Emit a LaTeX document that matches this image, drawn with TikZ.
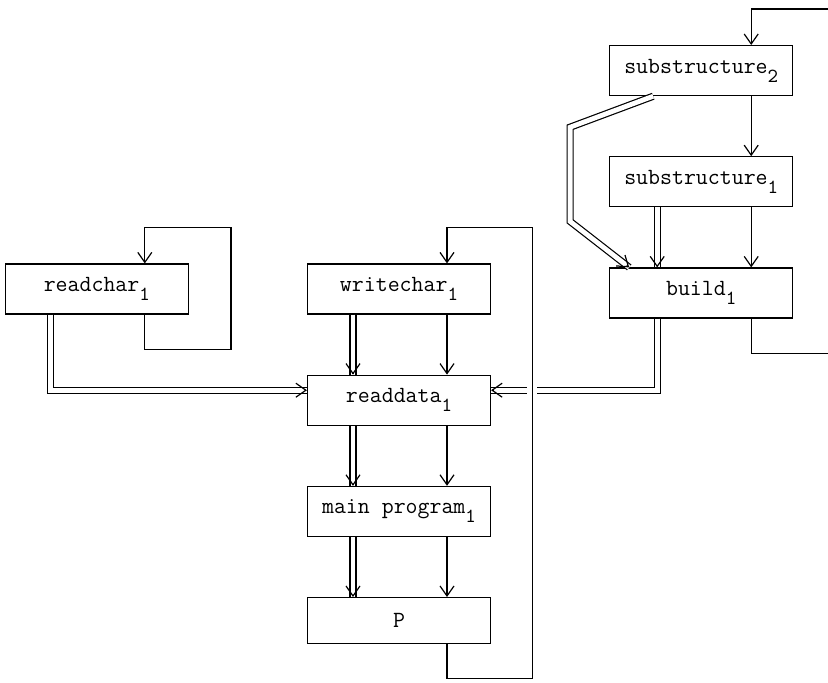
\documentclass[tikz,border=0pt]{standalone}
\usetikzlibrary{arrows.meta,positioning}
\newcommand{\ix}[1]{\raisebox{-4.5pt}{\fontsize{10}{10}\selectfont #1}}

\begin{document}
\begin{tikzpicture}[
      x=0.5pt, y=-0.5pt,
      node distance=30pt and 59pt,
      box/.style={draw, line width=0.6pt, minimum width=91.5pt, minimum height=25pt,
        inner sep=0pt, font=\fontsize{11.6}{13}\selectfont\ttfamily},
      arr/.style={-{Straight Barb[length=5pt,width=7pt]}, line width=0.6pt},
      dbl/.style={double, double distance=2.4pt, line width=0.6pt}]
    \clip (0,0) rectangle (828,682);
    \node[box] (writechar) at (399,289) {writechar\ix{1}};
    \node[box, left=of writechar] (readchar) {readchar\ix{1}};
    \node[box, right=of writechar, yshift=-2pt] (build) {build\ix{1}};
    \node[box, above=of build] (sub1) {substructure\ix{1}};
    \node[box, above=of sub1] (sub2) {substructure\ix{2}};
    \node[box, below=of writechar] (readdata) {readdata\ix{1}};
    \node[box, below=of readdata] (main) {main program\ix{1}};
    \node[box, below=of main, minimum height=23pt] (P) {P};

    % right column
    \draw[arr] ([xshift=25pt]sub2.south) -- ([xshift=25pt]sub1.north);
    \draw[arr] ([xshift=25pt]sub1.south) -- ([xshift=25pt]build.north);
    \draw[dbl] ([xshift=-22pt]sub1.south) -- ([xshift=-22pt]build.north);
    \draw[arr] ([xshift=-22pt,yshift=1pt]build.north) -- ([xshift=-22pt]build.north);
    \draw[dbl] ([xshift=-24pt]sub2.south) -- ([xshift=-19.5pt,yshift=-15.5pt]sub2.south west)
      -- ([xshift=-19.5pt,yshift=23pt]build.north west) -- ([xshift=-36pt]build.north);
    \draw[arr] ([xshift=-37.24pt,yshift=1pt]build.north) -- ([xshift=-36pt]build.north);
    \coordinate (farright) at ([xshift=30pt,yshift=18pt]sub2.north east);
    \draw[arr] ([xshift=25pt]build.south) -- ++(0,-17.5pt) -| (farright)
      -| ([xshift=25pt]sub2.north);

    % centre column
    \draw[dbl] ([xshift=-23pt]writechar.south) -- ([xshift=-23pt]readdata.north);
    \draw[arr] ([xshift=-23pt,yshift=1pt]readdata.north) -- ([xshift=-23pt]readdata.north);
    \draw[arr] ([xshift=24pt]writechar.south) -- ([xshift=24pt]readdata.north);
    \draw[dbl] ([xshift=-23pt]readdata.south) -- ([xshift=-23pt]main.north);
    \draw[arr] ([xshift=-23pt,yshift=1pt]main.north) -- ([xshift=-23pt]main.north);
    \draw[arr] ([xshift=24pt]readdata.south) -- ([xshift=24pt]main.north);
    \draw[dbl] ([xshift=-23pt]main.south) -- ([xshift=-23pt]P.north);
    \draw[arr] ([xshift=-23pt,yshift=1pt]P.north) -- ([xshift=-23pt]P.north);
    \draw[arr] ([xshift=24pt]main.south) -- ([xshift=24pt]P.north);

    % readchar
    \draw[arr] ([xshift=24pt]readchar.south) -- ++(0,-17.5pt)
      -| ([xshift=21pt,yshift=18pt]readchar.north east) -| ([xshift=24pt]readchar.north);
    \draw[dbl] ([xshift=-23pt]readchar.south) |- ([yshift=5pt]readdata.west);
    \draw[arr] ([xshift=-1pt,yshift=5pt]readdata.west) -- ([yshift=5pt]readdata.west);

    % build to readdata, crossing the writechar loop
    \draw[dbl] ([xshift=-22pt]build.south) |- ([yshift=5pt]readdata.east);
    \draw[arr] ([xshift=1pt,yshift=5pt]readdata.east) -- ([yshift=5pt]readdata.east);
    \coordinate (wtop) at ([xshift=20.5pt,yshift=18pt]writechar.north east);
    \coordinate (cross) at (wtop |- readdata.east);
    \fill[white] ([shift={(-2.5pt,1pt)}]cross) rectangle ([shift={(2.5pt,9pt)}]cross);
    \draw[arr] ([xshift=24pt]P.south) -- ++(0,-17pt) -| (wtop)
      -| ([xshift=24pt]writechar.north);
  \end{tikzpicture}
\end{document}
